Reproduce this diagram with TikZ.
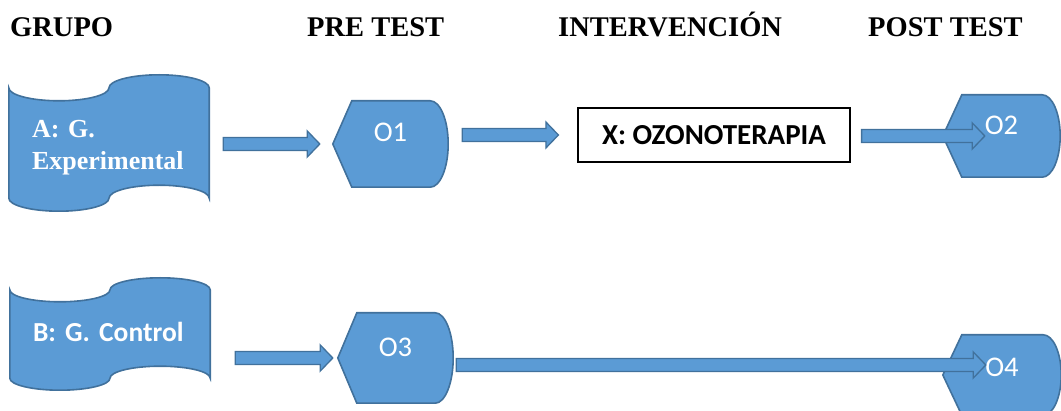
\documentclass[tikz,border=0pt]{standalone}
\usepackage{fontspec}
\setmainfont{Liberation Serif}
\newfontfamily\calibri{Carlito}
\usetikzlibrary{calc,backgrounds}

\definecolor{officeblue}{HTML}{5B9BD5}
\definecolor{officeline}{HTML}{41719C}

\tikzset{
  shapefill/.style={fill=officeblue, draw=officeline, line width=1.6pt},
  arrowfill/.style={fill=officeblue, draw=officeline, line width=1.3pt},
  head/.style={anchor=base west, inner sep=0pt, font=\bfseries\fontsize{28.5}{34}\selectfont},
  tapebox/.style={minimum width=200pt, text width=154pt, align=left, inner sep=0pt, anchor=base, text=white},
  obox/.style={minimum width=115pt, inner sep=0pt, anchor=base, text=white, font=\calibri\fontsize{28.5}{32}\selectfont}
}

% outline of a display box: pointed left side, round right side
\newcommand{\displayshape}[1]{%
  \draw[shapefill] let \p1=(#1.north), \p2=(#1.south), \n1={(\y1-\y2)/2} in
    (#1.west) -- ([xshift=19pt]#1.north west) -- ([xshift=-18pt]#1.north east)
    arc[start angle=90, end angle=-90, x radius=18pt, y radius=\n1]
    -- ([xshift=19pt]#1.south west) -- cycle;}

% outline of a punched tape, #2 is the wave height
\newcommand{\tapeshape}[2]{%
  \draw[shapefill] let \p1=(#1.north west), \p2=(#1.south east), \n1={(\x2-\x1)/4} in
    (\p1) arc[start angle=180, end angle=360, x radius=\n1, y radius=#2pt]
    arc[start angle=180, end angle=0, x radius=\n1, y radius=#2pt]
    -- (\x2,\y2) arc[start angle=0, end angle=180, x radius=\n1, y radius=#2pt]
    arc[start angle=0, end angle=-180, x radius=\n1, y radius=#2pt] -- cycle;}

% block arrow from #1 to the tip #2
\newcommand{\blockarrow}[2]{%
  \draw[arrowfill] let \p1=(#1), \p2=(#2) in
    (\x1,\y2+6.5pt) -- (\x2-12.5pt,\y2+6.5pt) -- (\x2-12.5pt,\y2+13pt)
    -- (\x2,\y2) -- (\x2-12.5pt,\y2-13pt) -- (\x2-12.5pt,\y2-6.5pt)
    -- (\x1,\y2-6.5pt) -- cycle;}

\begin{document}
\begin{tikzpicture}[x=1pt, y=-1pt]
\useasboundingbox (0,0) rectangle (1061,411);

\node[head] (hgrupo) at (10,37) {GRUPO};
\node[head] (hpre) at (307,37) {PRE TEST};
\node[head] (hinter) at (558,37) {INTERVENCIÓN};
\node[head] (hpost) at (868,37) {POST TEST};

\node[tapebox, text height=50pt, text depth=60pt, font=\bfseries\fontsize{26}{32}\selectfont]
  (tapeA) at (109,138) {A: G.\\Experimental};
\node[tapebox, text height=52pt, text depth=36pt, font=\calibri\bfseries\fontsize{27.5}{32}\selectfont]
  (tapeB) at (110,342) {B: G. Control};

\node[obox, text height=41pt, text depth=45pt] (O1) at (390.5,142) {O1};
\node[obox, minimum width=117pt, text height=40pt, text depth=42pt] (O2) at (1001.5,135) {O2};
\node[obox, text height=44pt, text depth=46pt] (O3) at (395.5,357) {O3};
\node[obox, minimum width=118pt, text height=42pt, text depth=38pt] (O4) at (1002,377) {O4};

\node[draw=black, line width=1.2pt, minimum width=272pt, minimum height=54pt, inner sep=0pt,
  font=\calibri\bfseries\fontsize{29}{32}\selectfont] (xbox) at (714,135) {X: OZONOTERAPIA};

\begin{pgfonlayer}{background}
\tapeshape{tapeA}{13}
\tapeshape{tapeB}{12}
\displayshape{O1}
\displayshape{O2}
\displayshape{O3}
\displayshape{O4}
\end{pgfonlayer}

\blockarrow{[xshift=14pt]tapeA.east}{[xshift=-13pt]O1.west}
\blockarrow{[xshift=14pt]O1.east}{[xshift=-19pt]xbox.west}
\blockarrow{[xshift=11pt]xbox.east}{[xshift=42pt]O2.west}
\blockarrow{[xshift=25pt]tapeB.east}{[xshift=-5pt]O3.west}
\blockarrow{[xshift=3pt]O3.east}{[xshift=43pt,yshift=10pt]O4.west}

\end{tikzpicture}
\end{document}
